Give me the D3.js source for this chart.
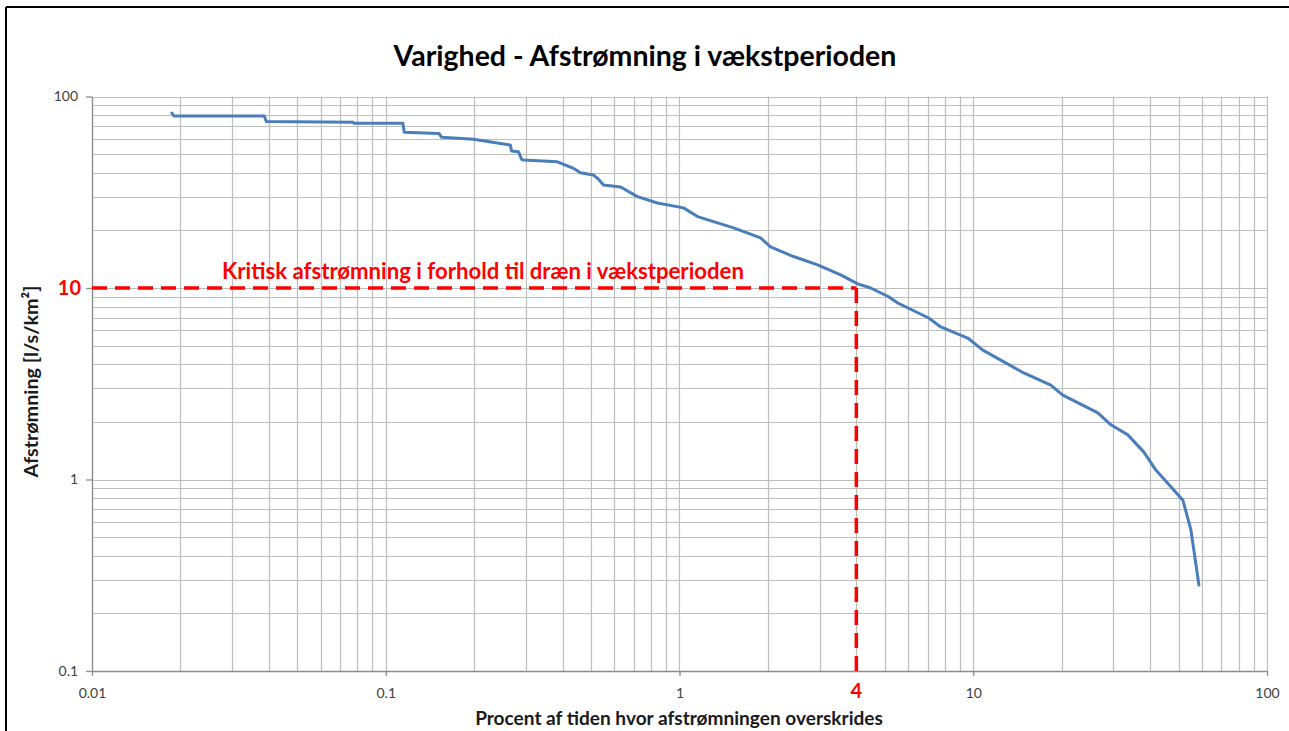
<!DOCTYPE html>
<html>
<head>
<meta charset="utf-8">
<script src="https://cdn.jsdelivr.net/npm/d3@7"></script>
<style>
  body { margin: 0; background: #fff; }
  svg { display: block; }
  text { font-family: Lato, "Open Sans", sans-serif; }
</style>
</head>
<body>
<svg id="chart" width="1289" height="731"></svg>
<script>
// ---- Data ----
const percentExceeded = [
  0.0187, 0.0190, 0.0386, 0.0392, 0.0775, 0.0780, 0.1144, 0.1156, 0.1520, 0.1550,
  0.1990, 0.2656, 0.2680, 0.2830, 0.2900, 0.2940, 0.3840, 0.4350, 0.4600, 0.5090,
  0.5300, 0.5510, 0.6300, 0.7190, 0.8410, 1.032, 1.152, 1.528, 1.888, 2.042,
  2.445, 2.953, 3.538, 4.042, 4.476, 5.152, 5.532, 7.054, 7.750, 9.579,
  10.78, 14.86, 18.37, 20.18, 26.56, 29.41, 33.60, 38.10, 41.85, 49.50,
  51.72, 55.08, 58.65
];
const runoff = [
  82.0, 79.1, 79.1, 74.0, 73.3, 72.4, 72.4, 65.0, 64.0, 61.2,
  59.8, 55.8, 52.0, 51.5, 47.0, 46.6, 45.6, 42.2, 40.0, 38.9,
  37.0, 34.5, 33.7, 30.0, 27.8, 26.2, 23.6, 20.6, 18.25, 16.4,
  14.6, 13.2, 11.7, 10.5, 10.0, 9.0, 8.35, 6.97, 6.26, 5.48,
  4.74, 3.60, 3.11, 2.76, 2.23, 1.93, 1.71, 1.39, 1.12, 0.84,
  0.78, 0.545, 0.281
];
const xTickValues = [0.01, 0.1, 1, 10, 100];
const xTickLabels = ["0.01", "0.1", "1", "10", "100"];
const yTickValues = [0.1, 1, 10, 100];
const yTickLabels = ["0.1", "1", "", "100"];
const criticalPercent = [4];
const criticalRunoff = [10];

const titleText = "Varighed - Afstrømning i vækstperioden";
const xAxisTitle = "Procent af tiden hvor afstrømningen overskrides";
const yAxisTitle = "Afstrømning [l/s/km²]";
const criticalLabel = "Kritisk afstrømning i forhold til dræn i vækstperioden";

// ---- Layout ----
const svg = d3.select("#chart");
const W = 1289, H = 731;
const m = { left: 92, right: 1267, top: 96.5, bottom: 671 };

const x = d3.scaleLog().domain([0.01, 100]).range([m.left, m.right]);
const y = d3.scaleLog().domain([0.1, 100]).range([m.bottom, m.top]);

// outer frame (top + left visible)
svg.append("line").attr("x1", 6).attr("x2", W).attr("y1", 7).attr("y2", 7)
  .attr("stroke", "#000").attr("stroke-width", 2);
svg.append("line").attr("x1", 6).attr("x2", 6).attr("y1", 7).attr("y2", H)
  .attr("stroke", "#000").attr("stroke-width", 2);

// gridlines (major + minor)
const gridX = [];
for (let d = -2; d < 2; d++) for (let k = 1; k <= 9; k++) gridX.push(k * Math.pow(10, d));
gridX.push(100);
const gridY = [];
for (let d = -1; d < 2; d++) for (let k = 1; k <= 9; k++) gridY.push(k * Math.pow(10, d));
gridY.push(100);

const g = svg.append("g");
g.selectAll("line.gx").data(gridX).enter().append("line")
  .attr("x1", d => Math.round(x(d)) + 0.5).attr("x2", d => Math.round(x(d)) + 0.5)
  .attr("y1", m.top).attr("y2", m.bottom)
  .attr("stroke", "#bdbdbd").attr("stroke-width", 1.2);
g.selectAll("line.gy").data(gridY).enter().append("line")
  .attr("y1", d => Math.round(y(d)) + 0.5).attr("y2", d => Math.round(y(d)) + 0.5)
  .attr("x1", m.left).attr("x2", m.right)
  .attr("stroke", "#bdbdbd").attr("stroke-width", 1.2);

// axes
const xAxis = d3.axisBottom(x).tickValues(xTickValues)
  .tickFormat((d, i) => xTickLabels[i]).tickSize(5).tickSizeOuter(0);
const yAxis = d3.axisLeft(y).tickValues(yTickValues)
  .tickFormat((d, i) => yTickLabels[i]).tickSize(6).tickSizeOuter(0);

const gx = svg.append("g").attr("transform", `translate(0,${m.bottom})`).call(xAxis);
const gy = svg.append("g").attr("transform", `translate(${m.left},0)`).call(yAxis);
[gx, gy].forEach(a => {
  a.select(".domain").attr("stroke", "#8c8c8c").attr("stroke-width", 1.3);
  a.selectAll(".tick line").attr("stroke", "#8c8c8c").attr("stroke-width", 1.3);
  a.selectAll(".tick text").attr("fill", "#404040").attr("font-size", 14)
    .attr("font-family", "Lato, sans-serif");
});
gx.selectAll(".tick text").attr("dy", "1.35em");
gy.selectAll(".tick text").attr("dx", "-0.35em");

// red critical markers
const red = "#ff0000";
svg.append("line")
  .attr("x1", x(0.01)).attr("x2", x(criticalPercent[0]))
  .attr("y1", y(criticalRunoff[0])).attr("y2", y(criticalRunoff[0]))
  .attr("stroke", red).attr("stroke-width", 3.5).attr("stroke-dasharray", "15,8");
svg.append("line")
  .attr("x1", x(criticalPercent[0])).attr("x2", x(criticalPercent[0]))
  .attr("y1", y(criticalRunoff[0])).attr("y2", y(0.1))
  .attr("stroke", red).attr("stroke-width", 3.5).attr("stroke-dasharray", "15,8");

// curve
const line = d3.line().x(d => x(d[0])).y(d => y(d[1])).curve(d3.curveLinear);
svg.append("path")
  .datum(percentExceeded.map((p, i) => [p, runoff[i]]))
  .attr("d", line)
  .attr("fill", "none").attr("stroke", "#4a7ebb").attr("stroke-width", 3)
  .attr("stroke-linejoin", "round").attr("stroke-linecap", "round");

// helper: fit text to width
function fit(sel, target) {
  const w = sel.node().getComputedTextLength();
  const fs = parseFloat(sel.attr("font-size"));
  sel.attr("font-size", fs * target / w);
}

// red labels
svg.append("text").attr("x", 81).attr("y", y(10)).attr("dy", "0.35em")
  .attr("text-anchor", "end").attr("fill", red).attr("font-weight", "bold")
  .attr("font-size", 20).text(criticalRunoff[0]);
svg.append("text").attr("x", x(4)).attr("y", 698)
  .attr("text-anchor", "middle").attr("fill", red).attr("font-weight", "bold")
  .attr("font-size", 20).text(criticalPercent[0]);
const cl = svg.append("text").attr("x", 483).attr("y", 279)
  .attr("text-anchor", "middle").attr("fill", red).attr("font-weight", "bold")
  .attr("font-size", 17).text(criticalLabel);
fit(cl, 522);

// titles
const t = svg.append("text").attr("x", 645).attr("y", 66)
  .attr("text-anchor", "middle").attr("fill", "#000").attr("font-weight", "bold")
  .attr("font-size", 22).text(titleText);
fit(t, 503);

const xt = svg.append("text").attr("x", 679).attr("y", 725)
  .attr("text-anchor", "middle").attr("fill", "#1a1a1a").attr("font-weight", "bold")
  .attr("font-size", 15).text(xAxisTitle);
fit(xt, 408);

const yt = svg.append("text")
  .attr("transform", `translate(38,${(285 + 478) / 2}) rotate(-90)`)
  .attr("text-anchor", "middle").attr("fill", "#1a1a1a").attr("font-weight", "bold")
  .attr("font-size", 15).text(yAxisTitle);
fit(yt, 192);
</script>
</body>
</html>
